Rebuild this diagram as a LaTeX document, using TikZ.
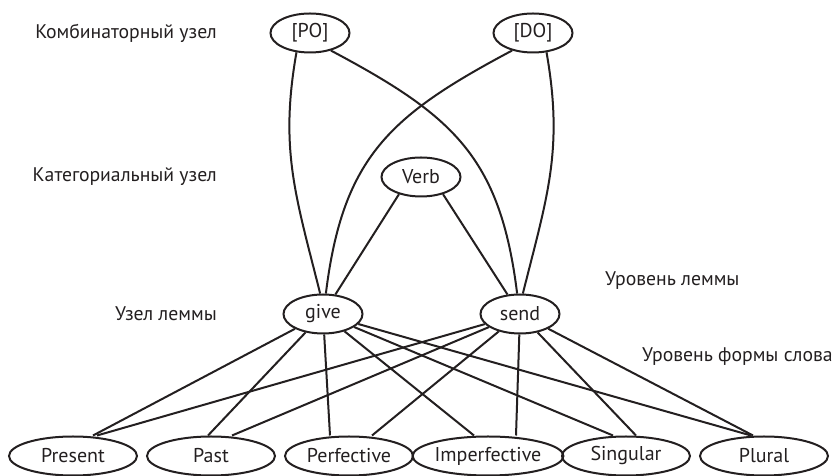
\documentclass[tikz,border=0pt]{standalone}
\usepackage{fontspec}
\setmainfont{PT Sans}
\usetikzlibrary{shapes.geometric}
\definecolor{ink}{RGB}{35,31,32}
\tikzset{
  lex node/.style={
    ellipse,
    draw=ink,
    line width=2pt,
    minimum width=79pt,
    minimum height=39pt,
    inner sep=0pt,
    text=ink,
    font=\fontsize{20}{24}\selectfont
  },
  form node/.style={
    lex node,
    minimum width=128pt,
    minimum height=39pt
  },
  level label/.style={
    text=ink,
    inner sep=0pt,
    font=\fontsize{19.7}{23}\selectfont
  },
  link/.style={
    draw=ink,
    line width=2pt
  }
}
\begin{document}
\begin{tikzpicture}[x=1pt,y=1pt]
  \useasboundingbox (0,0) rectangle (833,476);

  % Level labels
  \node[level label, anchor=east] (comblabel) at (217,443) {Комбинаторный узел};
  \node[level label, anchor=east] (catlabel) at (217,299) {Категориальный узел};
  \node[level label, anchor=east] (lemmalabel) at (217,162) {Узел леммы};
  \node[level label, anchor=west] (lemmalevel) at (605,195) {Уровень леммы};
  \node[level label, anchor=west] (formlevel) at (642,119) {Уровень формы слова};

  % Combinatorial and category nodes
  \node[lex node] (po) at (310,443) {[PO]};
  \node[lex node] (do) at (533,443) {[DO]};
  \node[lex node] (verb) at (421,299) {Verb};

  % Lemma nodes
  \node[lex node] (give) at (323,162) {give};
  \node[lex node] (send) at (520,162) {send};

  % Word form nodes
  \foreach \name/\txt/\x in {present/Present/73, past/Past/211, perfective/Perfective/349,
                             imperfective/Imperfective/488, singular/Singular/626, plural/Plural/764} {
    \node[form node] (\name) at (\x,20) {\txt};
  }

  % Frames to lemmas
  \draw[link] (po.235) to[out=260, in=104, looseness=1.05] (give.98);
  \draw[link] (po.-40) to[out=-28, in=97, looseness=1.15] (send.98);
  \draw[link] (do.220) to[out=208, in=83, looseness=1.15] (give.82);
  \draw[link] (do.-55) to[out=280, in=76, looseness=1.05] (send.82);

  % Category to lemmas
  \draw[link] (verb.218) -- (give);
  \draw[link] (verb.-38) -- (send);

  % Lemmas to word forms
  \foreach \tgt/\dg/\ds in {present/20/24, past/-3/21, perfective/-19/23,
                            imperfective/-14/28, singular/-13/10, plural/-13/-11} {
    \draw[link] (give) -- ([xshift=\dg pt]\tgt.north);
    \draw[link] (send) -- ([xshift=\ds pt]\tgt.north);
  }

\end{tikzpicture}
\end{document}
